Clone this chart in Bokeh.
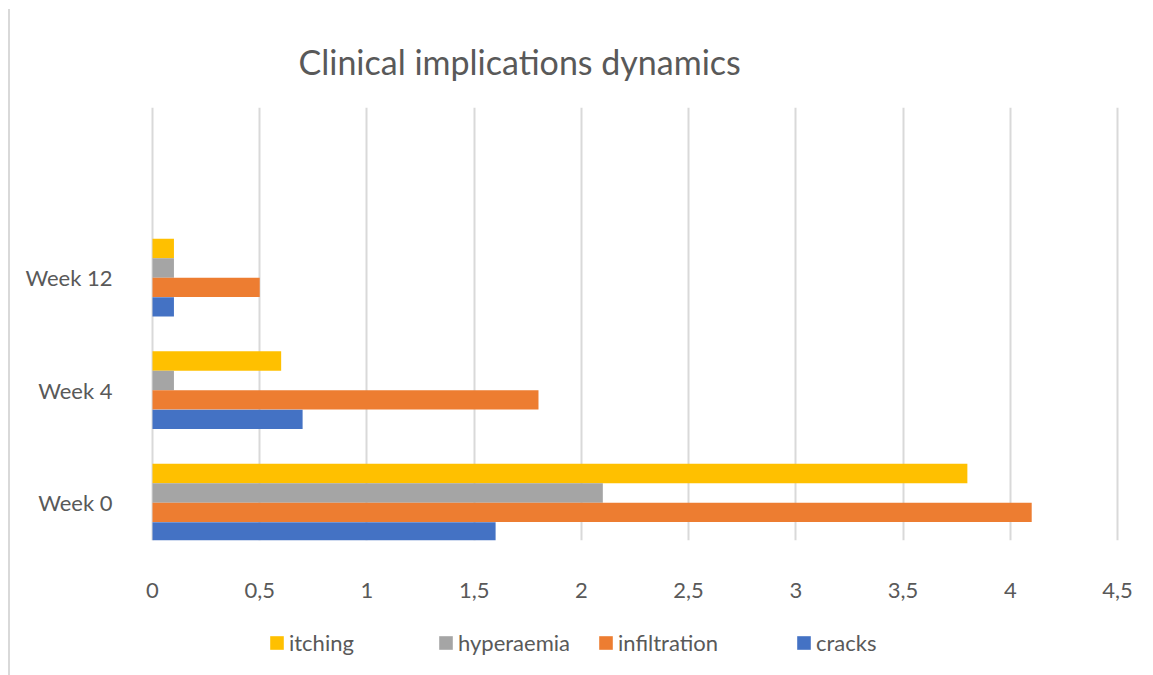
from bokeh.plotting import figure
from bokeh.layouts import column
from bokeh.models import (FixedTicker, CustomJSTickFormatter, Legend, LegendItem, Range1d, Title)
from bokeh.embed import file_html
from bokeh.resources import INLINE

categories = ["Week 0", "Week 4", "Week 12"]
series = ["itching", "hyperaemia", "infiltration", "cracks"]
itching = [3.8, 0.6, 0.1]
hyperaemia = [2.1, 0.1, 0.1]
infiltration = [4.1, 1.8, 0.5]
cracks = [1.6, 0.7, 0.1]
colors = {"itching": "#FFC000", "hyperaemia": "#A5A5A5", "infiltration": "#ED7D31", "cracks": "#4472C4"}
x_ticks = [0, 0.5, 1, 1.5, 2, 2.5, 3, 3.5, 4, 4.5]

values = {"itching": itching, "hyperaemia": hyperaemia, "infiltration": infiltration, "cracks": cracks}
offsets = {"itching": 0.259, "hyperaemia": 0.086, "infiltration": -0.086, "cracks": -0.259}
bar_h = 0.1726

FONT = "Lato"
TXT = "#595959"
GRID = "#d9d9d9"

# page geometry (canvas origin at page x=10, y=9)
OX, OY = 10, 9
px_per_unit = 214.44
frame_left, frame_right, frame_top, frame_bottom = 150, 1130, 107, 540
fig_w = 1135
main_bottom = 610
x0 = -(152 - frame_left) / px_per_unit
x1 = (frame_right - 152) / px_per_unit

p = figure(width=fig_w, height=main_bottom - OY, output_backend="svg", toolbar_location=None,
           x_range=Range1d(x0, x1), y_range=Range1d(-0.336, 3.513),
           min_border_left=frame_left - OX, min_border_right=OX + fig_w - frame_right,
           min_border_top=frame_top - OY, min_border_bottom=main_bottom - frame_bottom,
           outline_line_color=None)

p.title = Title(text="Clinical implications dynamics", align="left", offset=298 - frame_left,
                text_font=FONT, text_font_size="34px", text_font_style="normal",
                text_color=TXT, standoff=51)

for s in series:
    ys = [i + offsets[s] for i in range(len(categories))]
    p.hbar(y=ys, right=values[s], left=0, height=bar_h, color=colors[s], line_color=None)

p.xgrid.ticker = FixedTicker(ticks=x_ticks)
p.xgrid.grid_line_color = GRID
p.xgrid.grid_line_width = 2
p.ygrid.grid_line_color = None

p.xaxis.ticker = FixedTicker(ticks=x_ticks)
p.xaxis.formatter = CustomJSTickFormatter(code="return tick.toString().replace('.', ',');")
p.xaxis.axis_line_color = None
p.xaxis.major_tick_line_color = None
p.xaxis.minor_tick_line_color = None
p.xaxis.major_tick_out = 0
p.xaxis.major_label_standoff = 42
p.xaxis.major_label_text_font = FONT
p.xaxis.major_label_text_font_size = "22px"
p.xaxis.major_label_text_color = TXT

p.yaxis.ticker = FixedTicker(ticks=[0, 1, 2])
p.yaxis.major_label_overrides = {0: categories[0], 1: categories[1], 2: categories[2]}
p.yaxis.axis_line_color = None
p.yaxis.major_tick_line_color = None
p.yaxis.minor_tick_line_color = None
p.yaxis.major_tick_out = 0
p.yaxis.major_label_standoff = 38
p.yaxis.major_label_text_font = FONT
p.yaxis.major_label_text_font_size = "22px"
p.yaxis.major_label_text_color = TXT

# legend strip below the chart (its frame is aligned with the main frame)
leg_h = 675 - main_bottom
lf = figure(width=fig_w, height=leg_h, output_backend="svg", toolbar_location=None,
            x_range=Range1d(0, 1), y_range=Range1d(0, 1),
            min_border_left=0, min_border_right=0, min_border_top=0, min_border_bottom=0,
            outline_line_color=None)
lf.xaxis.visible = False
lf.yaxis.visible = False
lf.grid.visible = False

legend_x = {"itching": 270, "hyperaemia": 439, "infiltration": 599, "cracks": 797}
for s in series:
    # zero-width bar: only used to give the legend its swatch
    r = lf.hbar(y=[0.5], right=[0], left=0, height=0.1, color=colors[s], line_color=None)
    lg = Legend(items=[LegendItem(label=s, renderers=[r])],
                location=(legend_x[s] - frame_left - 2, 675 - 656),
                orientation="horizontal", padding=0, margin=0, spacing=0,
                glyph_width=17, glyph_height=17, label_standoff=4,
                label_text_font=FONT, label_text_font_size="22px", label_text_color=TXT,
                border_line_color=None, background_fill_alpha=0)
    lf.add_layout(lg, "center")

layout = column(p, lf, spacing=0,
                styles={"margin-left": "8px", "margin-top": "9px",
                        "border-left": "2px solid #d9d9d9"})

open("out.html", "w").write(file_html(layout, INLINE))
